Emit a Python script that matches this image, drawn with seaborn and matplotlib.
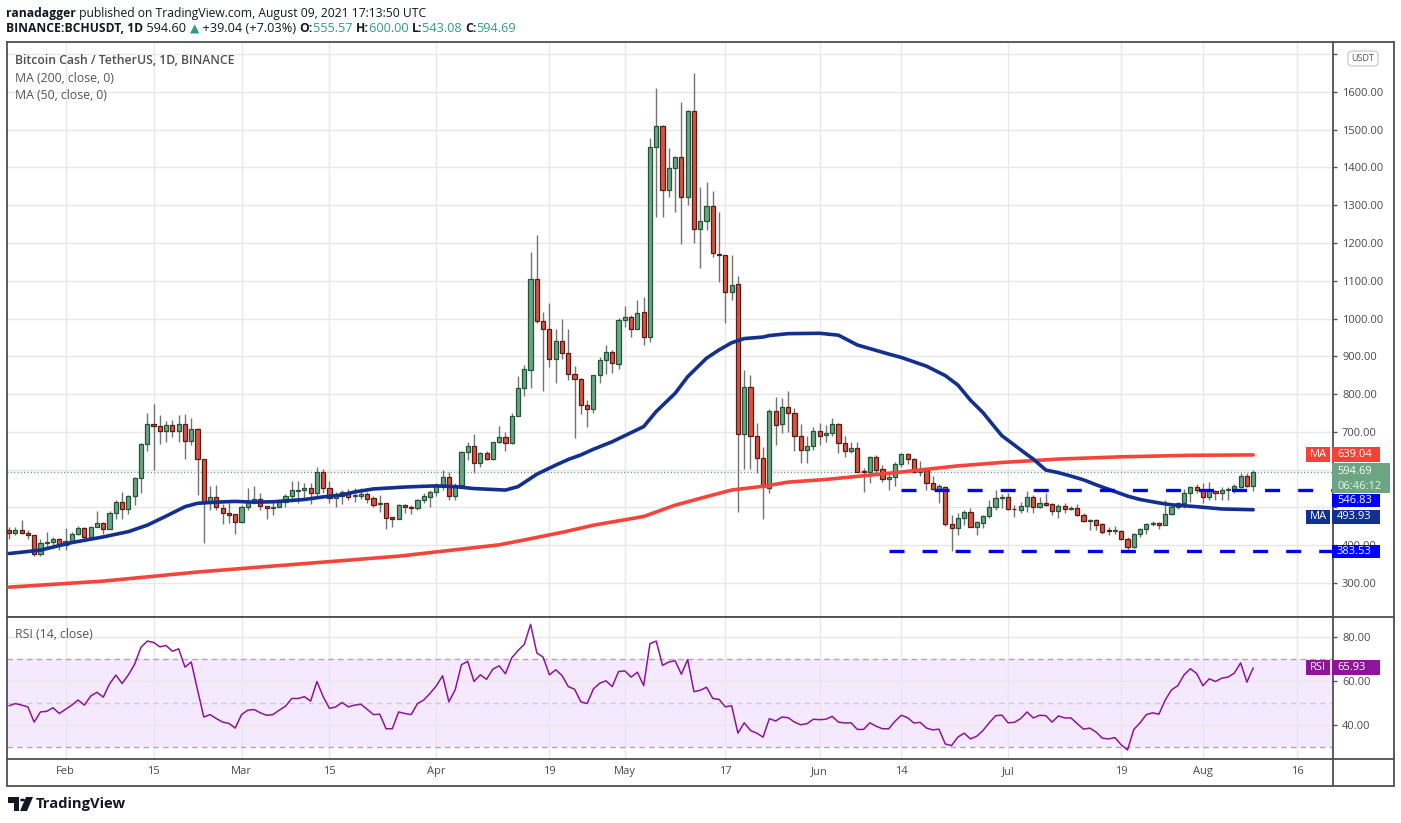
import matplotlib
matplotlib.use("Agg")
import matplotlib.pyplot as plt
from matplotlib.patches import Rectangle, FancyBboxPatch, Polygon, Circle
from matplotlib.lines import Line2D
from matplotlib.ticker import FuncFormatter
import seaborn as sns

# daily candles BCH/USDT, day 0 = Jan 23 2021 ... day 198 = Aug 9 2021
opens = [
    439, 432, 439, 432, 426, 376, 405, 408, 416, 400,
    412, 429, 446, 421, 447, 458, 444, 484, 514, 495,
    529, 577, 667, 720, 715, 703, 717, 703, 721, 677,
    707, 629, 515, 528, 499, 485, 483, 461, 501, 515,
    522, 505, 498, 500, 515, 529, 544, 546, 551, 537,
    593, 551, 524, 531, 542, 530, 530, 536, 524, 508,
    511, 474, 470, 507, 502, 498, 520, 527, 540, 557,
    580, 529, 560, 646, 662, 617, 643, 629, 672, 687,
    670, 743, 815, 863, 1104, 993, 972, 892, 940, 908,
    852, 840, 770, 760, 850, 890, 911, 879, 996, 1003,
    972, 1017, 950, 1454, 1509, 1339, 1398, 1427, 1321, 1550,
    1236, 1257, 1298, 1171, 1168, 1070, 1091, 694, 818, 689,
    630, 551, 755, 720, 765, 749, 688, 651, 663, 703,
    691, 697, 721, 670, 649, 657, 596, 595, 633, 601,
    576, 580, 614, 641, 627, 593, 598, 564, 550, 555,
    455, 445, 471, 487, 449, 458, 477, 500, 525, 527,
    497, 494, 505, 527, 502, 511, 508, 490, 503, 496,
    498, 479, 465, 466, 455, 438, 437, 438, 416, 396,
    431, 442, 455, 458, 454, 483, 500, 511, 539, 553,
    546, 527, 544, 537, 546, 547, 555, 583, 555.57,
]
highs = [
    447, 448, 467, 439, 426, 417, 436, 422, 418, 445,
    436, 451, 449, 450, 491, 462, 491, 520, 541, 533,
    580, 670, 749, 774, 745, 729, 732, 745, 747, 736,
    710, 629, 557, 560, 509, 513, 483, 507, 552, 557,
    537, 505, 514, 520, 536, 570, 570, 564, 564, 608,
    603, 570, 542, 545, 548, 551, 551, 542, 529, 532,
    511, 474, 509, 509, 507, 522, 537, 546, 564, 599,
    595, 564, 649, 674, 695, 647, 649, 674, 716, 700,
    751, 847, 876, 1176, 1221, 1018, 1041, 973, 998, 973,
    875, 842, 785, 850, 897, 930, 917, 1001, 1032, 1010,
    1049, 1058, 1477, 1611, 1512, 1451, 1431, 1574, 1552, 1651,
    1347, 1362, 1338, 1282, 1168, 1168, 1113, 864, 851, 723,
    661, 760, 792, 790, 808, 763, 721, 689, 714, 723,
    718, 736, 723, 689, 672, 672, 604, 636, 639, 612,
    590, 621, 645, 643, 630, 623, 601, 582, 562, 557,
    480, 484, 493, 499, 465, 480, 520, 546, 536, 537,
    507, 515, 544, 533, 527, 539, 511, 509, 511, 504,
    509, 486, 469, 469, 458, 447, 451, 440, 421, 433,
    446, 458, 465, 462, 520, 506, 515, 548, 557, 562,
    566, 567, 546, 555, 553, 561, 590, 590, 600,
]
lows = [
    416, 428, 430, 417, 371, 371, 393, 396, 388, 387,
    409, 426, 411, 417, 447, 429, 442, 469, 469, 483,
    507, 539, 650, 599, 669, 674, 687, 673, 627, 664,
    533, 406, 494, 492, 457, 458, 431, 458, 493, 509,
    492, 470, 481, 500, 500, 515, 513, 524, 509, 524,
    537, 513, 502, 509, 520, 515, 522, 513, 500, 489,
    442, 449, 470, 484, 483, 492, 511, 502, 529, 545,
    520, 520, 555, 626, 592, 608, 626, 626, 670, 650,
    668, 743, 795, 815, 988, 807, 873, 829, 892, 837,
    685, 747, 714, 749, 830, 852, 857, 867, 977, 950,
    972, 930, 939, 1270, 1270, 1323, 1283, 1198, 1300, 1199,
    1133, 1235, 1162, 1098, 988, 1049, 489, 601, 603, 590,
    469, 537, 665, 696, 701, 650, 617, 617, 652, 665,
    674, 688, 643, 633, 643, 595, 542, 566, 590, 568,
    546, 557, 606, 615, 590, 582, 545, 546, 513, 451,
    386, 427, 454, 449, 427, 445, 471, 493, 498, 493,
    476, 486, 489, 486, 498, 504, 480, 471, 484, 492,
    477, 461, 440, 440, 429, 427, 430, 414, 383, 392,
    423, 431, 451, 442, 453, 480, 497, 498, 515, 537,
    511, 521, 520, 521, 520, 537, 551, 553, 543.08,
]
closes = [
    432, 439, 432, 426, 376, 405, 408, 416, 400, 412,
    429, 446, 421, 447, 458, 444, 484, 514, 495, 529,
    577, 667, 720, 715, 703, 717, 703, 721, 677, 707,
    629, 515, 528, 500, 484, 481, 461, 501, 516, 522,
    505, 498, 501, 515, 529, 545, 546, 551, 537, 593,
    551, 524, 531, 540, 527, 534, 536, 522, 507, 511,
    473, 470, 507, 500, 498, 520, 529, 540, 557, 580,
    529, 560, 646, 662, 617, 643, 629, 672, 687, 670,
    743, 815, 866, 1104, 993, 972, 892, 940, 908, 852,
    840, 770, 760, 850, 890, 911, 882, 996, 1003, 972,
    1014, 950, 1454, 1509, 1339, 1398, 1427, 1321, 1550, 1236,
    1257, 1298, 1173, 1168, 1070, 1089, 694, 818, 689, 630,
    553, 755, 718, 765, 749, 688, 651, 663, 703, 690,
    697, 721, 670, 649, 657, 595, 594, 633, 599, 576,
    580, 614, 641, 627, 593, 599, 564, 550, 557, 455,
    445, 471, 487, 449, 461, 477, 500, 524, 527, 495,
    495, 505, 527, 502, 511, 507, 490, 503, 497, 499,
    479, 465, 467, 454, 436, 437, 439, 416, 396, 431,
    442, 455, 459, 454, 483, 500, 511, 537, 553, 546,
    527, 544, 537, 546, 549, 557, 583, 555.57, 594.69,
]

# moving averages (day, value)
ma200_days = [0, 15, 30, 39, 46, 62, 78, 82, 88, 93, 101, 106, 112, 115, 120,
              124, 130, 141, 151, 158, 167, 177, 188, 198]
ma200_vals = [289, 305, 329, 341, 350, 371, 401, 414, 434, 453, 476, 506, 533, 546, 556,
              567, 574, 592, 610, 619, 628, 634, 638, 639.04]
ma50_days = [0, 5, 10, 15, 19, 22, 25, 28, 30, 33, 36, 39, 42, 47, 50, 53, 55, 58, 61, 63,
             66, 68, 71, 74, 79, 81, 82, 84, 87, 89, 91, 93, 96, 98, 101, 103, 106, 108, 111, 113,
             115, 117, 120, 121, 124, 129, 132, 135, 140, 142, 146, 149, 151, 153, 155, 157, 158,
             160, 162, 163, 165, 167, 169, 171, 173, 176, 178, 180, 183, 185, 189, 193, 198]
ma50_vals = [378, 387, 407, 422, 436, 453, 477, 502, 511, 514, 516, 514, 515, 521, 528, 533, 541, 549, 552, 554,
             556, 557, 555, 550, 546, 555, 566, 588, 612, 627, 639, 654, 674, 690, 714, 754, 802, 846, 895, 917,
             936, 947, 951, 955, 960, 961, 956, 930, 906, 897, 874, 849, 824, 784, 751, 710, 690,
             665, 640, 628, 599, 592, 583, 573, 560, 542, 530, 521, 512, 507, 502, 496, 493.93]

rsi_vals = [
    48.8, 49.8, 49.1, 48.3, 41.4, 46, 46.3, 47.9, 45.3, 47.2,
    49.1, 51.4, 49.1, 53.2, 54.9, 52.7, 58.7, 62.7, 58.9, 62.8,
    67.7, 75.3, 78.1, 77.5, 75.5, 76.1, 73.5, 74.6, 66.3, 68.6,
    56, 43.7, 44.8, 43, 41.4, 40.8, 38.7, 44.8, 46.8, 47.1,
    45.6, 44.5, 44.8, 46.8, 48.6, 52.1, 52.1, 52.9, 50.9, 59.8,
    52.9, 47.6, 48.3, 50.3, 48.3, 49.1, 49.5, 47.2, 44.8, 45,
    38.4, 38.4, 46, 45.3, 44.8, 49.8, 51.4, 54.4, 57.8, 62.4,
    50.6, 56, 67.4, 68.9, 59.8, 62.8, 60.8, 65.4, 66.9, 63.3,
    70.5, 73.8, 76.6, 85.7, 72.7, 70.8, 62.8, 65.1, 62.5, 57.5,
    56.3, 50.6, 49.8, 56.4, 59, 60.1, 57.5, 64.3, 64.6, 61.8,
    64, 57.9, 76.9, 78.1, 67.1, 68.6, 69.2, 63.1, 69.7, 55.2,
    55.8, 57.2, 52.1, 51.7, 48.3, 48.8, 36.4, 41.1, 37.6, 36.4,
    34.6, 43, 41.9, 43.7, 43.4, 41.4, 40.2, 40.7, 42.7, 42.5,
    42.7, 44, 41.4, 41, 41.1, 38.1, 38.1, 41.1, 39.5, 38.4,
    38.4, 41.8, 44.5, 43.4, 41, 41.3, 38.7, 37.9, 38.2, 31.5,
    30.8, 34.6, 36.4, 33.8, 35, 37.6, 41.1, 44.3, 44.6, 41.1,
    41.3, 43, 46, 43.3, 44.5, 44.3, 41.4, 44.2, 43.3, 43.3,
    40.7, 38.2, 38.7, 36.9, 34.1, 33.8, 34.4, 31.1, 28.8, 38.1,
    41.1, 44.8, 45.6, 45, 51.4, 56, 57.9, 62.8, 65.6, 63.4,
    57.9, 61, 59.8, 61.3, 61.8, 63.6, 68.2, 59.5, 65.93,
]

support_levels = [546.83, 383.53]
support_start = [142, 140]
last_price = 594.69

tick_days = [9, 23, 37, 51, 68, 86, 98, 114, 129, 142, 159, 177, 190, 205]
tick_labels = ["Feb", "15", "Mar", "15", "Apr", "19", "May", "17", "Jun", "14", "Jul", "19", "Aug", "16"]
price_ticks = [300, 400, 500, 600, 700, 800, 900, 1000, 1100, 1200, 1300, 1400, 1500, 1600, 1700]
hidden_price_labels = [500, 600, 1700]   # covered by the price tags on the chart
rsi_ticks = [40, 60, 80]

# ---------------------------------------------------------------
sns.set_style("white")
FONT = ['Open Sans', 'DejaVu Sans']
plt.rcParams['font.family'] = FONT
plt.rcParams['lines.scale_dashes'] = False

W, H = 1401, 823
fig = plt.figure(figsize=(W / 100, H / 100), dpi=100)
fig.patch.set_facecolor('white')
FRAME = '#4f4f4f'
GRID = '#e8e8e8'
TXT = '#4a4a4a'


def fbox(x0, y0, x1, y1):
    return [x0 / W, 1 - y1 / H, (x1 - x0) / W, (y1 - y0) / H]


ax1 = fig.add_axes(fbox(7, 42, 1333, 617))
ax2 = fig.add_axes(fbox(7, 617, 1333, 759), sharex=ax1)

# candles
days = list(range(len(closes)))
up = [c >= o for o, c in zip(opens, closes)]
fills = ['#6ba583' if u else '#d75442' for u in up]
edges = ['#225437' if u else '#5b1a13' for u in up]
bottoms = [min(o, c) for o, c in zip(opens, closes)]
heights = [max(abs(c - o), 2.0) for o, c in zip(opens, closes)]

ax1.axhline(last_price, color='#5f9c7e', lw=1, ls=(0, (0.8, 1.6)), zorder=1)
ax1.vlines(days, lows, highs, color='#737375', lw=1, zorder=2)
ax1.bar(days, heights, bottom=bottoms, width=0.66, color=fills,
        edgecolor=edges, linewidth=0.9, zorder=3)

sns.lineplot(x=ma200_days, y=ma200_vals, ax=ax1, color='#f5453a', lw=2.6, zorder=4)
sns.lineplot(x=ma50_days, y=ma50_vals, ax=ax1, color='#12308f', lw=2.6, zorder=4)

XMAX = 210.7
for lvl, st in zip(support_levels, support_start):
    ax1.plot([st, XMAX], [lvl, lvl], color='#0000ff', lw=2.4, ls=(0, (10.8, 13)), zorder=5)

# RSI
ax2.axhspan(30, 70, color='#9915ff', alpha=0.09, lw=0, zorder=0)
ax2.axhline(70, color='#b3a3b6', lw=1, ls=(0, (4, 3)), zorder=1)
ax2.axhline(30, color='#b3a3b6', lw=1, ls=(0, (4, 3)), zorder=1)
ax2.axhline(50, color='#d6cad8', lw=1, ls=(0, (4, 3)), zorder=1)
sns.lineplot(x=days, y=rsi_vals, ax=ax2, color='#8e1599', lw=1.1, zorder=3)

for ax in (ax1, ax2):
    ax.set_xlabel('')
    ax.set_ylabel('')
    ax.set_axisbelow(True)
    ax.grid(True, color=GRID, lw=1)
    ax.yaxis.tick_right()
    ax.tick_params(axis='y', direction='out', length=3, width=1, color='#555555',
                   pad=3.5, labelsize=8, labelcolor=TXT)
    for s in ax.spines.values():
        s.set_color(FRAME)
        s.set_linewidth(1.3)

ax1.yaxis.set_major_formatter(FuncFormatter(
    lambda v, p: '' if round(v) in hidden_price_labels else '%.2f' % v))
ax2.yaxis.set_major_formatter(FuncFormatter(lambda v, p: '%.2f' % v))

ax1.set_xlim(-0.32, XMAX)
ax1.set_ylim(210, 1732)
ax1.set_yticks(price_ticks)
ax2.set_ylim(24.7, 89)
ax2.set_yticks(rsi_ticks)
ax2.set_xticks(tick_days)
ax2.set_xticklabels(tick_labels)
ax1.tick_params(axis='x', bottom=False, labelbottom=False)
ax2.tick_params(axis='x', length=0, pad=5, labelsize=8, labelcolor=TXT)


def fline(xs, ys):
    fig.add_artist(Line2D([x / W for x in xs], [1 - y / H for y in ys],
                          transform=fig.transFigure, color=FRAME, lw=1.3))


fline([1333, 1394], [42, 42])
fline([1333, 1394], [617, 617])
fline([1333, 1394], [759, 759])
fline([7, 1394], [786, 786])
fline([1394, 1394], [42, 786])
fline([7, 7], [759, 786])
fline([1333, 1333], [759, 786])


def py_of(ax, v):
    return H - ax.transData.transform((0, v))[1]


def tag(x0, x1, yc, h, text, fc, ha='left'):
    fig.add_artist(Rectangle((x0 / W, 1 - (yc + h / 2) / H), (x1 - x0) / W, h / H,
                             transform=fig.transFigure, facecolor=fc, edgecolor='none', zorder=10))
    tx = (x0 + x1) / 2 if ha == 'center' else x0 + 5
    fig.text(tx / W, 1 - yc / H, text, color='white', fontsize=8, ha=ha, va='center', zorder=11)


y200 = py_of(ax1, ma200_vals[-1])
tag(1306, 1330, y200, 15, 'MA', '#f44336', ha='center')
tag(1332, 1380, y200, 15, '%.2f' % ma200_vals[-1], '#f44336')

ylp = py_of(ax1, last_price)
fig.add_artist(Rectangle((1332 / W, 1 - (ylp + 21) / H), 58 / W, 29.5 / H,
                         transform=fig.transFigure, facecolor='#6ba583', edgecolor='none', zorder=10))
fig.text(1337 / W, 1 - ylp / H, '%.2f' % last_price, color='white', fontsize=8, va='center', zorder=11)
fig.text(1337 / W, 1 - (ylp + 14.5) / H, '06:46:12', color='#e8f3ec', fontsize=8, va='center', zorder=11)

ys1 = py_of(ax1, support_levels[0]) + 11
tag(1332, 1380, ys1, 13, '%.2f' % support_levels[0], '#0000ff')
y50 = py_of(ax1, ma50_vals[-1]) + 7
tag(1306, 1330, y50, 14, 'MA', '#12308f', ha='center')
tag(1332, 1380, y50, 14, '%.2f' % ma50_vals[-1], '#12308f')
ys2 = py_of(ax1, support_levels[1])
tag(1332, 1380, ys2, 13, '%.2f' % support_levels[1], '#0000ff')

yr = py_of(ax2, rsi_vals[-1])
tag(1306, 1330, yr, 15, 'RSI', '#8e1599', ha='center')
tag(1332, 1380, yr, 15, '%.2f' % rsi_vals[-1], '#8e1599')

# USDT badge
fig.add_artist(FancyBboxPatch((1348 / W, 1 - 66 / H), 30 / W, 15 / H,
                              boxstyle='round,pad=0,rounding_size=0.004',
                              transform=fig.transFigure, facecolor='white',
                              edgecolor='#cfcfcf', lw=1, zorder=10))
fig.text(1363 / W, 1 - 58.5 / H, 'USDT', color='#555555', fontsize=6.5,
         ha='center', va='center', zorder=11)

# legends
fig.text(15 / W, 1 - 61 / H, 'Bitcoin Cash / TetherUS, 1D, BINANCE', color='#4f4f4f',
         fontsize=8.8, fontweight='semibold', va='center')
fig.text(15 / W, 1 - 78 / H, 'MA (200, close, 0)', color='#555555', fontsize=8.8, va='center')
fig.text(15 / W, 1 - 95.5 / H, 'MA (50, close, 0)', color='#555555', fontsize=8.8, va='center')
fig.text(15 / W, 1 - 634 / H, 'RSI (14, close)', color='#555555', fontsize=8.8, va='center')

# header lines
renderer = fig.canvas.get_renderer()


def runs(x, y, parts):
    for txt, col, wt, size in parts:
        t = fig.text(x / W, 1 - y / H, txt, color=col, fontsize=size, fontweight=wt,
                     va='center', ha='left', family=FONT)
        x += t.get_window_extent(renderer).width


BLK = '#131722'
TEAL = '#2e9c88'
runs(6, 13, [('ranadagger', BLK, 'bold', 8.7),
             (' published on TradingView.com, August 09, 2021 17:13:50 UTC', BLK, 'normal', 8.7)])
runs(6, 29, [('BINANCE:BCHUSDT, 1D', BLK, 'bold', 8.7), (' 594.60 ', BLK, 'normal', 9.2),
             ('\u25b2', TEAL, 'normal', 8.7), (' +39.04 (+7.03%) ', BLK, 'normal', 9.2),
             ('O:', BLK, 'bold', 8.7), ('555.57 ', TEAL, 'normal', 9.2),
             ('H:', BLK, 'bold', 8.7), ('600.00 ', TEAL, 'normal', 9.2),
             ('L:', BLK, 'bold', 8.7), ('543.08 ', TEAL, 'normal', 9.2),
             ('C:', BLK, 'bold', 8.7), ('594.69', TEAL, 'normal', 9.2)])


# TradingView logo
def fpoly(pts, **kw):
    fig.add_artist(Polygon([(x / W, 1 - y / H) for x, y in pts], closed=True,
                           transform=fig.transFigure, **kw))


fpoly([(8, 797), (19, 797), (19, 811), (14, 811), (14, 803), (8, 803)], facecolor=BLK, lw=0)
fig.add_artist(Circle((22.5 / W, 1 - 800 / H), 2.4 / W, transform=fig.transFigure,
                      facecolor=BLK, lw=0))
fpoly([(26, 797), (33, 797), (27, 811), (20, 811)], facecolor=BLK, lw=0)
fig.text(36 / W, 1 - 804 / H, 'TradingView', color=BLK, fontsize=10.6, fontweight='bold',
         va='center', ha='left')

fig.savefig('out.png', dpi=100)
